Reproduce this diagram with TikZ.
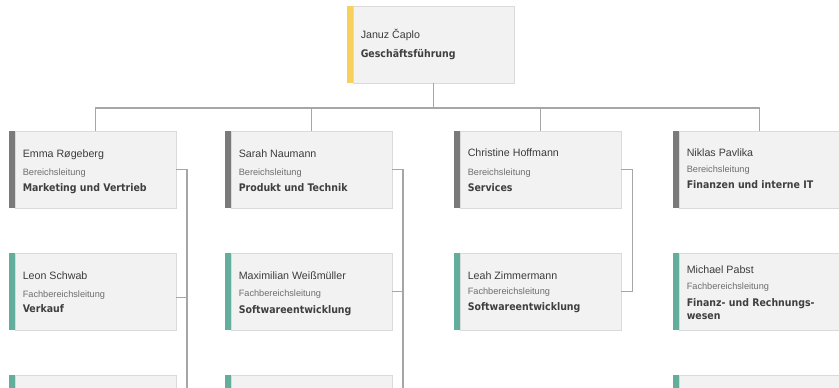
\documentclass[tikz,border=0pt]{standalone}
\usepackage{fontspec}
\setmainfont{Liberation Sans}
\newfontfamily\titlefont{DejaVu Sans Condensed}
\definecolor{boxfill}{HTML}{F2F2F2}
\definecolor{boxline}{HTML}{DADADA}
\definecolor{connc}{HTML}{A6A6A6}
\definecolor{baryellow}{HTML}{F8D15C}
\definecolor{bargray}{HTML}{7A7A7A}
\definecolor{barteal}{HTML}{62AD9B}
\definecolor{namec}{HTML}{3C3C3C}
\definecolor{rolec}{HTML}{6E6E6E}
\definecolor{titlec}{HTML}{3F3F3F}
\tikzset{
  body/.style={draw=boxline, fill=boxfill, line width=0.75pt, minimum width=120.75pt,
    minimum height=57.75pt, inner sep=0pt, outer sep=0pt, anchor=north west},
  conn/.style={draw=connc, line width=1.2pt},
  nm/.style={anchor=base west, inner sep=0pt, text=namec, font=\fontsize{8}{10}\selectfont},
  rl/.style={anchor=base west, inner sep=0pt, text=rolec, font=\fontsize{6.9}{8}\selectfont},
  tt/.style={anchor=base west, inner sep=0pt, text=titlec, font=\titlefont\bfseries\fontsize{7.85}{10}\selectfont},
}
\newcommand\orgunit[4]{% id, barleft, top, barcolor
  \fill[#4] (#2,#3) rectangle ++(6,77);
  \node[body] (#1) at ({#2+6},#3) {};}
\newcommand\person[8]{% id, x, yname, yrole, ytitle, name, role, title
  \node[nm] (#1-n) at (#2,#3) {#6};
  \node[rl] (#1-r) at (#2,#4) {#7};
  \node[tt] (#1-t) at (#2,#5) {#8};}
\begin{document}
\begin{tikzpicture}[x=0.75pt, y=-0.75pt]
\useasboundingbox (0,0) rectangle (839,387);
\fill[white] (0,0) rectangle (839,387);
\clip (0,0) rectangle (839,387);

% boxes
\orgunit{top}{347}{6}{baryellow}
\orgunit{b1}{9}{131}{bargray}
\orgunit{b2}{225}{131}{bargray}
\orgunit{b3}{454}{131}{bargray}
\orgunit{b4}{673}{131}{bargray}
\orgunit{c1}{9}{253}{barteal}
\orgunit{c2}{225}{253}{barteal}
\orgunit{c3}{454}{253}{barteal}
\orgunit{c4}{673}{253}{barteal}
\orgunit{d1}{9}{375}{barteal}
\orgunit{d2}{225}{375}{barteal}
\orgunit{d4}{673}{375}{barteal}

% texts
\node[nm] (top-n) at (360.5,38.3) {Januz Čaplo};
\node[tt] (top-t) at (360.5,57.3) {Geschäftsführung};
\person{b1}{22.5}{157.3}{175}{191.7}{Emma Røgeberg}{Bereichsleitung}{Marketing und Vertrieb}
\person{b2}{238.5}{157.3}{175}{191.7}{Sarah Naumann}{Bereichsleitung}{Produkt und Technik}
\person{b3}{467.5}{156.7}{175}{191}{Christine Hoffmann}{Bereichsleitung}{Services}
\person{b4}{686.5}{156.7}{172.7}{188.3}{Niklas Pavlika}{Bereichsleitung}{Finanzen und interne IT}
\person{c1}{22.5}{279}{297.3}{312.7}{Leon Schwab}{Fachbereichsleitung}{Verkauf}
\person{c2}{238.5}{279}{296.7}{313.3}{Maximilian Weißmüller}{Fachbereichsleitung}{Softwareentwicklung}
\person{c3}{467.5}{279}{294.3}{310}{Leah Zimmermann}{Fachbereichsleitung}{Softwareentwicklung}
\person{c4}{686.5}{273.3}{289.3}{306}{Michael Pabst}{Fachbereichsleitung}{Finanz- und Rechnungs-}
\node[tt] (c4-t2) at (686.5,319.3) {wesen};

% connectors
\coordinate (hub) at (433.5,107.7);
\draw[conn] (top.south) -- (hub);
\draw[conn] (hub) -| (b1.north);
\draw[conn] (hub) -| (b2.north);
\draw[conn] (hub) -| (b3.north);
\draw[conn] (hub) -| (b4.north);

\coordinate (e1) at (187,395);
\coordinate (e2) at (402.7,395);
\draw[conn] (b1.east) -| (e1);
\coordinate (c1b) at ([yshift=-4.5pt]c1.east);
\draw[conn] (c1b) -- (c1b -| e1);
\draw[conn] (b2.east) -| (e2);
\draw[conn] (c2.east) -- (c2.east -| e2);
\draw[conn] (b3.east) -- ++(11.5,0) |- (c3.east);
\end{tikzpicture}
\end{document}
